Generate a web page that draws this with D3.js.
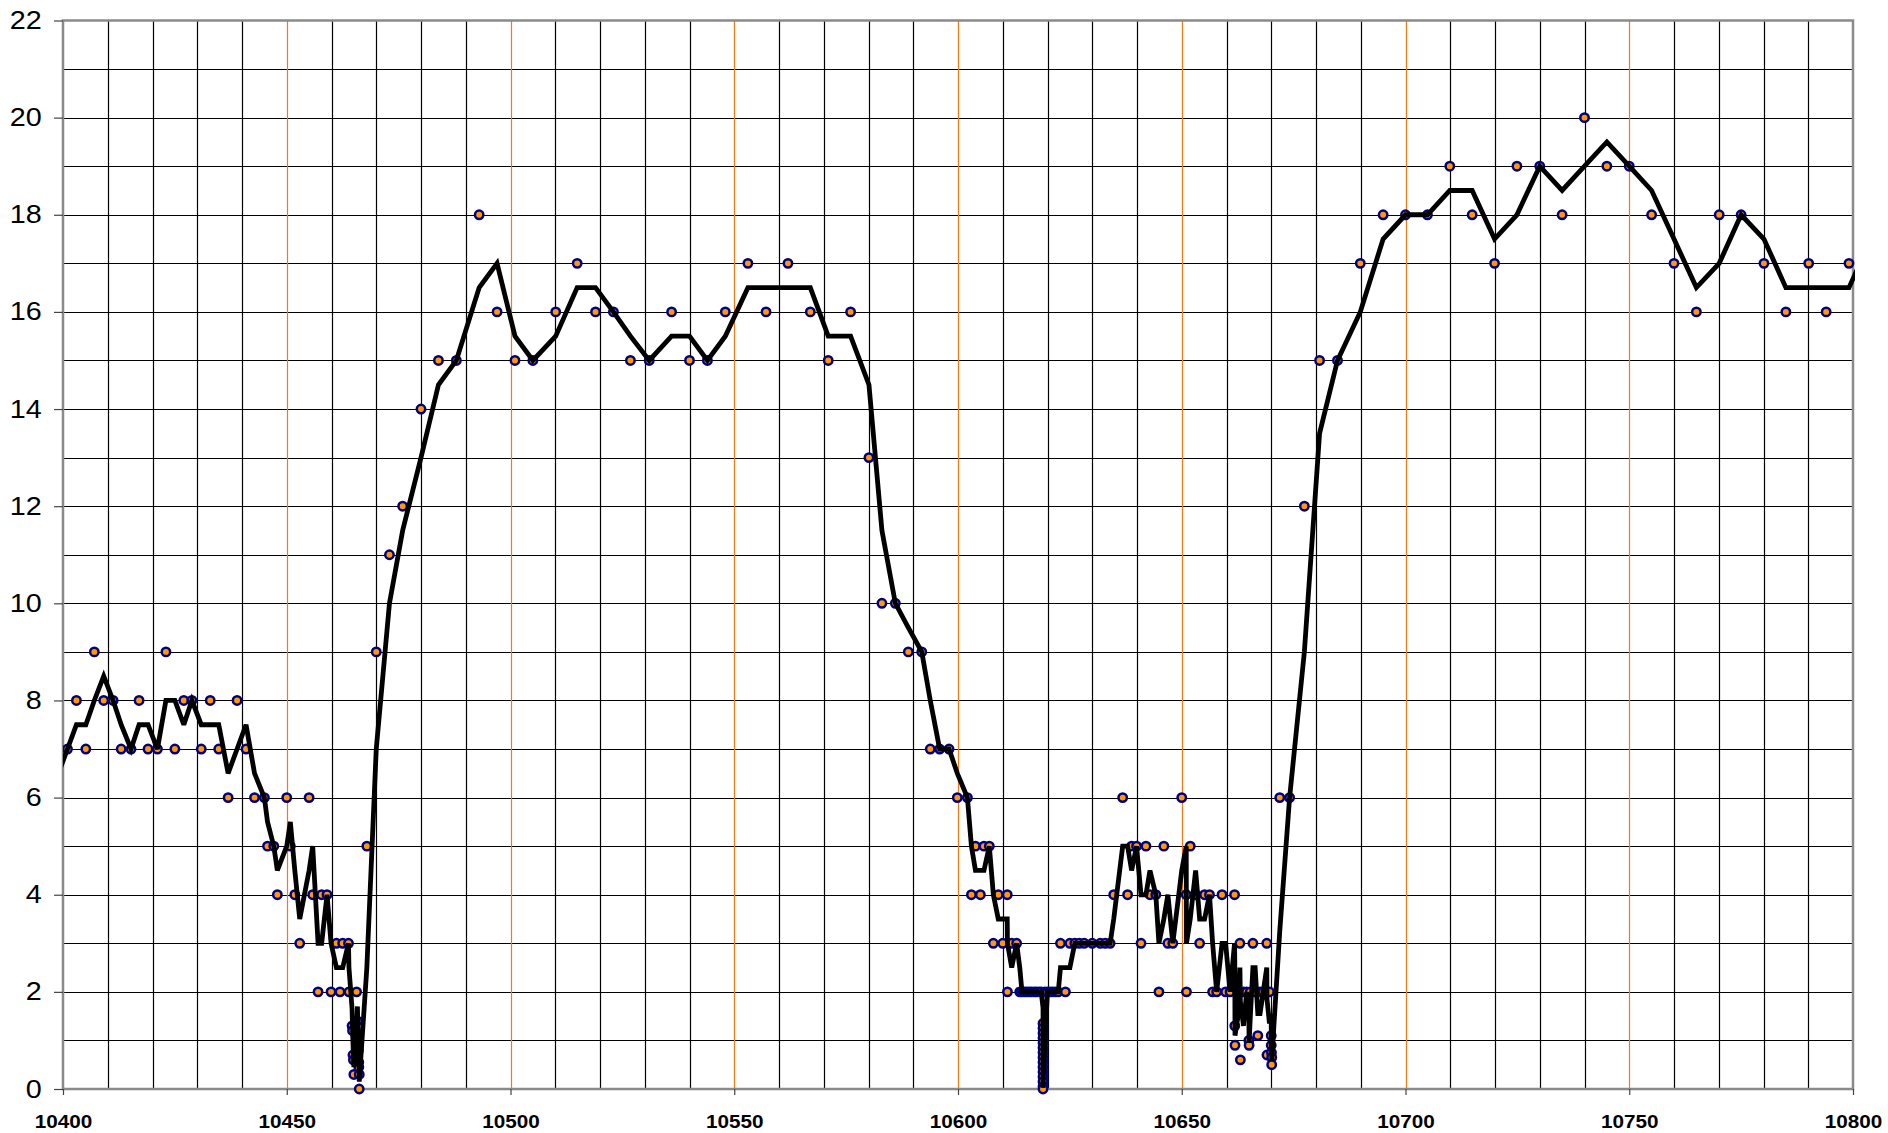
<!DOCTYPE html>
<html><head><meta charset="utf-8">
<script src="https://cdn.jsdelivr.net/npm/d3@7"></script>
<style>html,body{margin:0;padding:0;background:#fff;} svg{display:block;}</style>
</head><body>
<svg id="chart" width="1888" height="1133"></svg>
<script>
// ---- data ----
const xTickValues = [10400, 10450, 10500, 10550, 10600, 10650, 10700, 10750, 10800];
const yTickValues = [0, 2, 4, 6, 8, 10, 12, 14, 16, 18, 20, 22];

const positions = [
  10397, 10399,
  10401.0, 10403.0, 10405.1, 10407.0, 10409.1, 10411.2, 10413.0, 10415.2, 10417.0, 10419.0,
  10421.1, 10423.0, 10425.0, 10427.0, 10428.8, 10430.9, 10432.9, 10434.8, 10436.9, 10438.9,
  10440.9, 10442.8, 10445.0, 10445.7, 10447.1, 10447.9, 10450.0, 10450.8, 10451.8, 10452.9,
  10455.0, 10455.8, 10457.0, 10457.8, 10459.0, 10459.9, 10461.1, 10461.9, 10462.5, 10463.8,
  10463.9, 10464.6, 10464.7, 10464.8, 10464.9, 10465.0, 10465.6, 10465.8, 10465.9, 10466.0,
  10466.0, 10466.1, 10466.1, 10466.2, 10466.2,
  10467.9, 10470.0, 10472.95, 10475.9, 10480.0, 10483.9, 10487.9, 10493.0, 10497.0, 10501.0,
  10505.0, 10510.1, 10514.9, 10519.0, 10523.0, 10526.8, 10531.0, 10536.0, 10540.0, 10544.0,
  10548.0, 10553.05, 10557.1, 10562.0, 10567.0, 10571.0, 10576.0, 10580.1, 10583.0, 10586.0,
  10588.9, 10591.9, 10593.8, 10595.9, 10598.0, 10599.85, 10602.1, 10603.0, 10603.9, 10605.0,
  10605.8, 10607.0, 10607.9, 10609.0, 10610.0, 10611.0, 10611.05, 10612.0, 10613.1, 10613.8,
  10614.3, 10614.8, 10615.3, 10615.9, 10616.4, 10617.0, 10617.5, 10618.1, 10618.6,
  10619.0, 10619.0, 10619.0, 10619.0, 10619.0, 10619.0, 10619.0, 10619.0, 10619.0, 10619.0,
  10619.0, 10619.0, 10619.0, 10619.0, 10619.0,
  10619.4, 10620.0, 10620.6, 10621.2, 10621.8, 10622.4, 10622.9, 10624.0, 10625.0, 10626.1,
  10627.1, 10628.2, 10630.0, 10631.8, 10632.9, 10634.0, 10634.8, 10636.8, 10637.9, 10638.8,
  10639.9, 10640.9, 10642.0, 10642.9, 10644.2, 10644.9, 10646.0, 10646.9, 10648.0, 10650.0,
  10651.0, 10651.05, 10651.9, 10653.1, 10654.0, 10655.1, 10656.2, 10656.9, 10657.8, 10659.0,
  10659.8, 10660.8, 10661.8, 10661.85, 10661.9, 10662.5, 10663.0, 10663.1, 10663.8, 10664.5,
  10665.0, 10665.05, 10665.3, 10665.9, 10666.4, 10667.0, 10667.5, 10668.2, 10669.0, 10669.05,
  10669.6, 10670.0, 10670.0, 10670.05, 10670.1, 10670.1,
  10671.9, 10674.1, 10677.4, 10680.8, 10684.8, 10689.9, 10695.0, 10700.0, 10704.9, 10709.9,
  10714.9, 10719.9, 10724.9, 10730.0, 10735.0, 10740.0, 10745.0, 10750.0, 10755.0, 10760.0,
  10765.0, 10770.1, 10775.0, 10780.1, 10785.0, 10790.1, 10794.0, 10799.1, 10804
];

const readings = [
  6, 7,
  7, 8, 7, 9, 8, 8, 7, 7, 8, 7,
  7, 9, 7, 8, 8, 7, 8, 7, 6, 8,
  7, 6, 6, 5, 5, 4, 6, 5, 4, 3,
  6, 4, 2, 4, 4, 2, 3, 2, 3, 3,
  2, 1.3, 1.2, 0.7, 0.6, 0.3, 2, 1.4, 1.0, 0.9,
  0.8, 0.55, 0.45, 0.3, 0,
  5, 9, 11, 12, 14, 15, 15, 18, 16, 15,
  15, 16, 17, 16, 16, 15, 15, 16, 15, 15,
  16, 17, 16, 17, 16, 15, 16, 13, 10, 10,
  9, 9, 7, 7, 7, 6, 6, 4, 5, 4,
  5, 5, 3, 4, 3, 4, 2, 3, 3, 2,
  2, 2, 2, 2, 2, 2, 2, 2, 2,
  1.35, 1.25, 1.15, 1.05, 0.95, 0.85, 0.75, 0.65, 0.55, 0.45,
  0.35, 0.25, 0.15, 0.05, 0,
  2, 2, 2, 2, 2, 2, 3, 2, 3, 3,
  3, 3, 3, 3, 3, 3, 4, 6, 4, 5,
  5, 3, 5, 4, 4, 2, 5, 3, 3, 6,
  4, 2, 5, 4, 3, 4, 4, 2, 2, 4,
  2, 2, 4, 1.3, 0.9, 2, 3, 0.6, 2, 2,
  1.0, 0.9, 2, 3, 2, 1.1, 2, 2, 3, 0.7,
  2, 1.1, 0.9, 0.75, 0.65, 0.5,
  6, 6, 12, 15, 15, 17, 18, 18, 18, 19,
  18, 17, 19, 19, 18, 20, 19, 19, 18, 17,
  16, 18, 18, 17, 16, 17, 16, 17, 18
];

// ---- layout ----
const W = 1888, H = 1133;
const plot = {left: 63, right: 1853, top: 20.5, bottom: 1089};

const svg = d3.select("#chart");
const x = d3.scaleLinear().domain([10400, 10800]).range([plot.left, plot.right]);
const y = d3.scaleLinear().domain([0, 22]).range([plot.bottom, plot.top]);

const points = positions.map((p, i) => ({x: p, y: readings[i]}));
// 2-period moving-average trendline of the plotted points (as in the original chart)
const trend = d3.pairs(points).map(([a, b]) => ({x: b.x, y: (a.y + b.y) / 2}));

// grid
const grid = svg.append("g");
grid.selectAll("line.h").data(d3.range(1, 22)).join("line")
  .attr("x1", plot.left).attr("x2", plot.right)
  .attr("y1", d => Math.round(y(d)) + 0.5).attr("y2", d => Math.round(y(d)) + 0.5)
  .attr("stroke", "#000").attr("stroke-width", 1.2);
const vGrid = d3.range(10410, 10800, 10);
grid.selectAll("line.v").data(vGrid).join("line")
  .attr("y1", plot.top).attr("y2", plot.bottom)
  .attr("x1", d => Math.round(x(d)) + 0.5).attr("x2", d => Math.round(x(d)) + 0.5)
  .attr("stroke", d => d % 50 === 0 ? "#ff7410" : "#000").attr("stroke-width", 1.2);

// frame
svg.append("rect")
  .attr("x", plot.left).attr("y", plot.top)
  .attr("width", plot.right - plot.left).attr("height", plot.bottom - plot.top)
  .attr("fill", "none").attr("stroke", "#8a8a8a").attr("stroke-width", 2.5);

// axes
const yAxis = svg.append("g").attr("transform", `translate(${plot.left},0)`)
  .call(d3.axisLeft(y).tickValues(yTickValues).tickSize(9).tickPadding(9.5));
yAxis.select(".domain").remove();
yAxis.selectAll(".tick line").attr("stroke", "#444").attr("stroke-width", 1.2);
yAxis.selectAll(".tick text")
  .attr("font-family", "'Liberation Sans', Arial, sans-serif")
  .attr("font-size", 25).attr("fill", "#000")
  .attr("transform", "scale(1.15,1)");

const xAxis = svg.append("g").attr("transform", `translate(0,${plot.bottom})`)
  .call(d3.axisBottom(x).tickValues(xTickValues).tickSize(6).tickPadding(20).tickFormat(d3.format("d")));
xAxis.select(".domain").remove();
xAxis.selectAll(".tick line").attr("stroke", "#444").attr("stroke-width", 1.2);
xAxis.selectAll(".tick text")
  .attr("font-family", "'Liberation Sans', Arial, sans-serif")
  .attr("font-weight", "bold")
  .attr("font-size", 18).attr("fill", "#000")
  .attr("transform", "scale(1.15,1)");

// clip
svg.append("clipPath").attr("id", "clip")
  .append("rect").attr("x", plot.left).attr("y", 0)
  .attr("width", plot.right - plot.left + 2).attr("height", H);

const data = svg.append("g").attr("clip-path", "url(#clip)");

data.selectAll("circle").data(points).join("circle")
  .attr("cx", d => x(d.x)).attr("cy", d => y(d.y)).attr("r", 4.2)
  .attr("fill", "#ff9900").attr("stroke", "#000080").attr("stroke-width", 2.5);

data.append("path").datum(trend)
  .attr("d", d3.line().x(d => x(d.x)).y(d => y(d.y)))
  .attr("fill", "none").attr("stroke", "#000").attr("stroke-width", 4.8)
  .attr("stroke-linejoin", "miter").attr("stroke-miterlimit", 3);
</script>
</body></html>
